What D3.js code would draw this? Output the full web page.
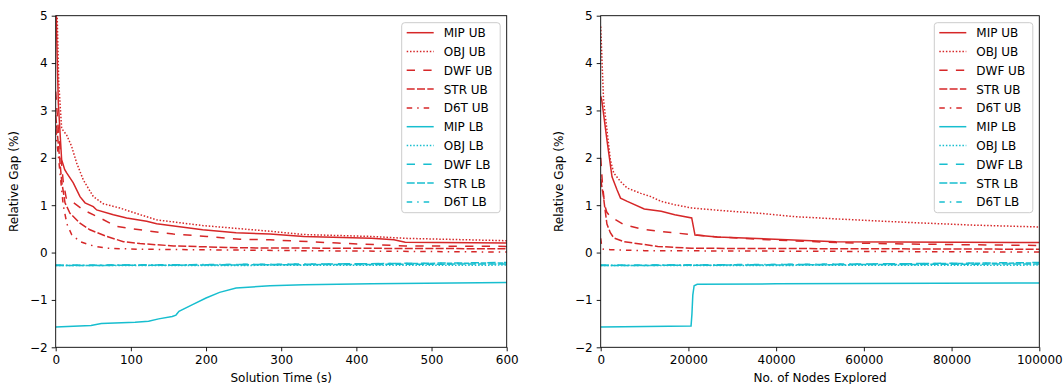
<!DOCTYPE html>
<html lang="en">
<head>
<meta charset="UTF-8">
<title>Relative gap</title>
<script src="https://cdn.jsdelivr.net/npm/d3@7"></script>
<style>
    body{ margin:0; background:#fff; font-family:"DejaVu Sans", sans-serif; }
    svg{ display:block; }
    .tick text{ font-size:12px; fill:#000; }
    .axlabel{ font-size:12px; fill:#000; }
    .legtext{ font-size:12px; fill:#000; }
</style>
</head>
<body>
<script>
// series names, styles come from the index
const seriesNames = ["MIP UB","OBJ UB","DWF UB","STR UB","D6T UB","MIP LB","OBJ LB","DWF LB","STR LB","D6T LB"];

// left panel: gap vs solution time (s)
const timeTicks = [0,100,200,300,400,500,600];
const timeMipUB = [[0,5.6],[2,4.1],[3.5,3.15],[7.9,1.96],[12,1.75],[14.6,1.68],[23.4,1.47],[32.3,1.18],[39,1.05],[50,0.97],[54.5,0.9],[76.7,0.8],[94.4,0.73],[121,0.66],[134.3,0.61],[195.5,0.48],[240,0.42],[285,0.39],[330,0.34],[420,0.3],[450,0.27],[465,0.22],[510,0.21],[600,0.2]];
const timeObjUB = [[0,6],[2,5],[4,3.6],[7.9,2.62],[14.6,2.48],[21.2,2.24],[27.9,1.89],[36.8,1.53],[50.1,1.18],[63.4,1.03],[85.5,0.94],[112.1,0.8],[134.3,0.69],[195.5,0.57],[285,0.45],[330,0.38],[420,0.34],[465,0.3],[600,0.25]];
const timeDwfUB = [[0,3.4],[3.5,2.6],[7,2.0],[10,1.5],[14,1.15],[19,1.11],[36.8,0.9],[58.9,0.73],[81.1,0.55],[112.1,0.48],[156.6,0.39],[200.9,0.34],[245.2,0.28],[285,0.27],[375,0.2],[465,0.14],[600,0.13]];
const timeStrUB = [[0,2.9],[4,2.2],[8,1.5],[12.4,1.05],[19,0.83],[32.3,0.62],[45.6,0.48],[67.8,0.34],[90,0.23],[112.1,0.19],[156.6,0.14],[200.9,0.12],[245.2,0.1],[400,0.09],[600,0.08]];
const timeD6tUB = [[0,2.6],[5,1.8],[10,1.0],[15,0.6],[21.2,0.38],[32.3,0.23],[50.1,0.14],[67.8,0.09],[112.1,0.07],[330,0.04],[600,0.01]];
const timeMipLB = [[0,-1.57],[47,-1.54],[60.7,-1.5],[105.6,-1.47],[123.6,-1.45],[137,-1.4],[155,-1.35],[160,-1.32],[164,-1.24],[182,-1.1],[200,-0.96],[218,-0.84],[240,-0.75],[285,-0.7],[330,-0.68],[420,-0.66],[600,-0.63]];
const timeObjLB = [[0,-0.275],[600,-0.265]];
const timeDwfLB = [[0,-0.27],[300,-0.25],[600,-0.21]];
const timeStrLB = [[0,-0.275],[600,-0.24]];
const timeD6tLB = [[0,-0.27],[600,-0.22]];

// right panel: gap vs number of nodes explored
const nodeTicks = [0,20000,40000,60000,80000,100000];
const nodeMipUB = [[0,3.3],[240,3.22],[1420,2.38],[2580,1.6],[3740,1.32],[4520,1.15],[6060,1.08],[9930,0.92],[13790,0.87],[16880,0.8],[20750,0.73],[21500,0.37],[26570,0.33],[39740,0.28],[53680,0.23],[100000,0.21]];
const nodeObjUB = [[0,4.77],[650,3.22],[1420,2.59],[2200,1.96],[2970,1.68],[4520,1.5],[6060,1.36],[9150,1.25],[11470,1.18],[13790,1.08],[16880,1.01],[20750,0.94],[28480,0.88],[36210,0.83],[43940,0.76],[53680,0.71],[69170,0.64],[84660,0.58],[100000,0.54]];
const nodeDwfUB = [[0,2.0],[400,1.45],[900,1.0],[1400,0.85],[2200,0.76],[5290,0.59],[9150,0.5],[13020,0.45],[20750,0.38],[26570,0.33],[38190,0.27],[53680,0.21],[69170,0.18],[100000,0.15]];
const nodeStrUB = [[0,1.55],[600,1.2],[1000,0.9],[1420,0.6],[2200,0.42],[2970,0.31],[5290,0.23],[13020,0.13],[20750,0.09],[100000,0.07]];
const nodeD6tUB = [[0,0.3],[200,0.15],[600,0.07],[2200,0.06],[10000,0.04],[100000,0.01]];
const nodeMipLB = [[0,-1.57],[20600,-1.55],[20800,-1.3],[21000,-0.9],[21300,-0.7],[22000,-0.67],[40000,-0.66],[100000,-0.64]];
const nodeObjLB = [[0,-0.275],[100000,-0.265]];
const nodeDwfLB = [[0,-0.27],[50000,-0.25],[100000,-0.21]];
const nodeStrLB = [[0,-0.275],[100000,-0.24]];
const nodeD6tLB = [[0,-0.27],[100000,-0.22]];

const yTicks = [-2,-1,0,1,2,3,4,5];

const red = "#d62728", cyan = "#17becf";
const dashes = [null, "1.5,1.8", "8.3,8.3", "8,2.3", "5.5,5,1.5,5"];

const svg = d3.select("body").append("svg").attr("width",1063).attr("height",384);

function panel(id, left, right, xMax, ticks, xLabel, series){
    const top = 15.7, bottom = 347.3;
    const x = d3.scaleLinear().domain([0,xMax]).range([left,right]);
    const y = d3.scaleLinear().domain([-2,5]).range([bottom,top]);
    const g = svg.append("g");

    g.append("clipPath").attr("id",id).append("rect")
        .attr("x",left).attr("y",top).attr("width",right-left).attr("height",bottom-top);

    const line = d3.line().x(d=>x(d[0])).y(d=>y(d[1]));
    g.append("g").attr("clip-path",`url(#${id})`)
        .selectAll("path").data(series).enter().append("path")
        .attr("d",line)
        .attr("fill","none")
        .attr("stroke",(d,i)=> i<5 ? red : cyan)
        .attr("stroke-width",1.5)
        .attr("stroke-dasharray",(d,i)=>dashes[i%5]);

    const xAxis = d3.axisBottom(x).tickValues(ticks).tickFormat(d3.format("d")).tickSize(4).tickSizeOuter(0).tickPadding(4);
    const yAxis = d3.axisLeft(y).tickValues(yTicks).tickFormat(d3.format("d")).tickSize(4).tickSizeOuter(0).tickPadding(4);
    g.append("g").attr("transform",`translate(0,${bottom})`).call(xAxis)
        .call(a=>a.select(".domain").remove());
    g.append("g").attr("transform",`translate(${left},0)`).call(yAxis)
        .call(a=>a.select(".domain").remove());
    g.selectAll(".tick line").attr("stroke","#000").attr("stroke-width",0.9);
    g.selectAll(".tick text").attr("font-family","DejaVu Sans").attr("font-size",12);

    g.append("rect").attr("x",left).attr("y",top).attr("width",right-left).attr("height",bottom-top)
        .attr("fill","none").attr("stroke","#000").attr("stroke-width",0.9);

    g.append("text").attr("class","axlabel").attr("x",(left+right)/2).attr("y",382)
        .attr("text-anchor","middle").text(xLabel);
    g.append("text").attr("class","axlabel")
        .attr("transform",`translate(${left-38},${(top+bottom)/2}) rotate(-90)`)
        .attr("text-anchor","middle").text("Relative Gap (%)");

    // legend
    const lx = right-105, ly = 22.7;
    const leg = g.append("g").attr("transform",`translate(${lx},${ly})`);
    leg.append("rect").attr("width",98.5).attr("height",190).attr("rx",3)
        .attr("fill","#fff").attr("fill-opacity",0.8).attr("stroke","#cccccc").attr("stroke-width",1);
    const row = leg.selectAll("g.item").data(seriesNames).enter().append("g")
        .attr("class","item").attr("transform",(d,i)=>`translate(0,${10+i*18.8})`);
    row.append("line").attr("x1",5).attr("x2",32).attr("y1",0).attr("y2",0)
        .attr("stroke",(d,i)=> i<5 ? red : cyan).attr("stroke-width",1.5)
        .attr("stroke-dasharray",(d,i)=>dashes[i%5]);
    row.append("text").attr("class","legtext").attr("x",42).attr("y",4.5).text(d=>d);
}

panel("clipL", 55.7, 506.7, 600, timeTicks, "Solution Time (s)",
    [timeMipUB,timeObjUB,timeDwfUB,timeStrUB,timeD6tUB,timeMipLB,timeObjLB,timeDwfLB,timeStrLB,timeD6tLB]);
panel("clipR", 600.7, 1039.3, 100000, nodeTicks, "No. of Nodes Explored",
    [nodeMipUB,nodeObjUB,nodeDwfUB,nodeStrUB,nodeD6tUB,nodeMipLB,nodeObjLB,nodeDwfLB,nodeStrLB,nodeD6tLB]);
</script>
</body>
</html>
